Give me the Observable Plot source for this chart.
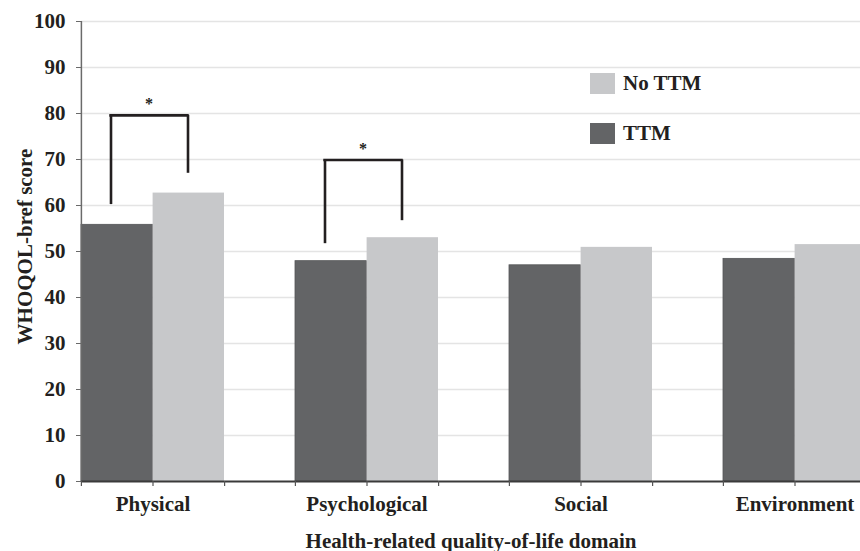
<!DOCTYPE html>
<html><head><meta charset="utf-8">
<script src="https://cdn.jsdelivr.net/npm/d3@7"></script>
<script src="https://cdn.jsdelivr.net/npm/@observablehq/plot@0.6"></script>
<style>
body{margin:0;background:#fff;}
#wrap{position:relative;width:860px;height:551px;overflow:hidden;background:#fff;}
.lg{position:absolute;left:590px;height:21px;display:flex;align-items:center;font-family:"Liberation Serif","Times New Roman",serif;font-weight:bold;font-size:21px;color:#231f20;white-space:nowrap;}
.sw{width:25px;height:21px;margin-right:8px;box-sizing:border-box;}
</style></head><body><div id="wrap"></div>
<script>
const domains = ["Physical", "Psychological", "Social", "Environment"];
const groups = ["TTM", "No TTM"];
const ttmScores = [55.8, 47.9, 47.0, 48.4];
const noTtmScores = [62.7, 53.0, 50.9, 51.5];
const yTicks = [0, 10, 20, 30, 40, 50, 60, 70, 80, 90, 100];
const sigDomains = ["Physical", "Psychological"];
const sigLeftBottom = [60.2, 51.7];
const sigRightBottom = [67.0, 56.7];
const sigTop = [79.6, 69.9];
const xTitle = "Health-related quality-of-life domain";
const yTitle = "WHOQOL-bref score";

const colors = {"TTM": "#636466", "No TTM": "#c7c8ca"};
const ttmRows = domains.map((d, i) => ({domain: d, group: "TTM", score: ttmScores[i]}));
const noRows = domains.map((d, i) => ({domain: d, group: "No TTM", score: noTtmScores[i]}));
const sig = sigDomains.map((d, i) => ({domain: d, left: sigLeftBottom[i], right: sigRightBottom[i], top: sigTop[i]}));

const W = 860, H = 551, ML = 81, MT = 21, MB = 70;
const ink = "#231f20";
const FS = 21;

const plot = Plot.plot({
  width: W, height: H,
  marginLeft: ML, marginRight: 0, marginTop: MT, marginBottom: MB,
  style: {fontFamily: "'Liberation Serif','Times New Roman',serif", fontSize: FS + "px", fontWeight: "bold", color: ink, background: "#fff"},
  x: {domain: domains, range: [ML, 869], paddingInner: 1/3, paddingOuter: 0, align: 0, label: null},
  y: {domain: [0, 100], label: null},
  marks: [
    Plot.gridY(yTicks.slice(1), {stroke: "#e4e4e4", strokeOpacity: 1, strokeWidth: 1.5}),
    Plot.barY(ttmRows, {x: "domain", y: "score", fill: colors["TTM"], stroke: "#555658", strokeWidth: 0.8, insetRight: 71.6}),
    Plot.barY(noRows, {x: "domain", y: "score", fill: colors["No TTM"], insetLeft: 71.6}),
    // y axis
    Plot.ruleX([domains[0]], {y1: 0, y2: 100, dx: -71.6, stroke: "#6a6a6a", strokeWidth: 1.5}),
    Plot.axisY({ticks: yTicks, tickSize: 5, tickPadding: 11, stroke: "#6a6a6a", fill: ink, fontSize: FS, fontWeight: "bold", label: null}),
    // x axis
    Plot.ruleY([0], {stroke: "#3a3a3a", strokeWidth: 2}),
    Plot.ruleX(domains, {y1: 0, y2: 0, insetBottom: -5, dx: -71.6, stroke: "#555", strokeWidth: 1.2}),
    Plot.ruleX(domains, {y1: 0, y2: 0, insetBottom: -5, stroke: "#555", strokeWidth: 1.2}),
    Plot.ruleX(domains, {y1: 0, y2: 0, insetBottom: -5, dx: 71.6, stroke: "#555", strokeWidth: 1.2}),
    Plot.axisX({tickSize: 0, tickPadding: 15, fill: ink, fontSize: FS, fontWeight: "bold", label: null}),
    // significance brackets
    Plot.ruleX(sig, {x: "domain", y1: "left", y2: "top", dx: -42, stroke: ink, strokeWidth: 2.6}),
    Plot.ruleX(sig, {x: "domain", y1: "right", y2: "top", dx: 35, stroke: ink, strokeWidth: 2.6}),
    Plot.tickY(sig, {x: "domain", y: "top", insetLeft: 71.6 - 43.3, insetRight: 71.6 - 36.3, stroke: ink, strokeWidth: 2.6}),
    Plot.text(sig, {x: "domain", y: "top", text: () => "*", dx: -4, dy: -6, lineAnchor: "bottom", fontSize: 16, fill: ink}),
    // titles
    Plot.text([xTitle], {frameAnchor: "bottom", dy: 66, textAnchor: "middle", lineAnchor: "bottom", fontSize: FS, fontWeight: "bold", fill: ink}),
    Plot.text([yTitle], {frameAnchor: "left", dx: -56, dy: -5, rotate: -90, textAnchor: "middle", fontSize: FS, fontWeight: "bold", fill: ink})
  ]
});

const wrap = document.getElementById("wrap");
wrap.appendChild(plot);

[["No TTM", 73], ["TTM", 123]].forEach(([g, top]) => {
  const el = document.createElement("div");
  el.className = "lg";
  el.style.top = top + "px";
  const sw = document.createElement("div");
  sw.className = "sw";
  sw.style.background = colors[g];
  const t = document.createElement("span");
  t.textContent = g;
  el.appendChild(sw); el.appendChild(t);
  wrap.appendChild(el);
});
</script></body></html>
